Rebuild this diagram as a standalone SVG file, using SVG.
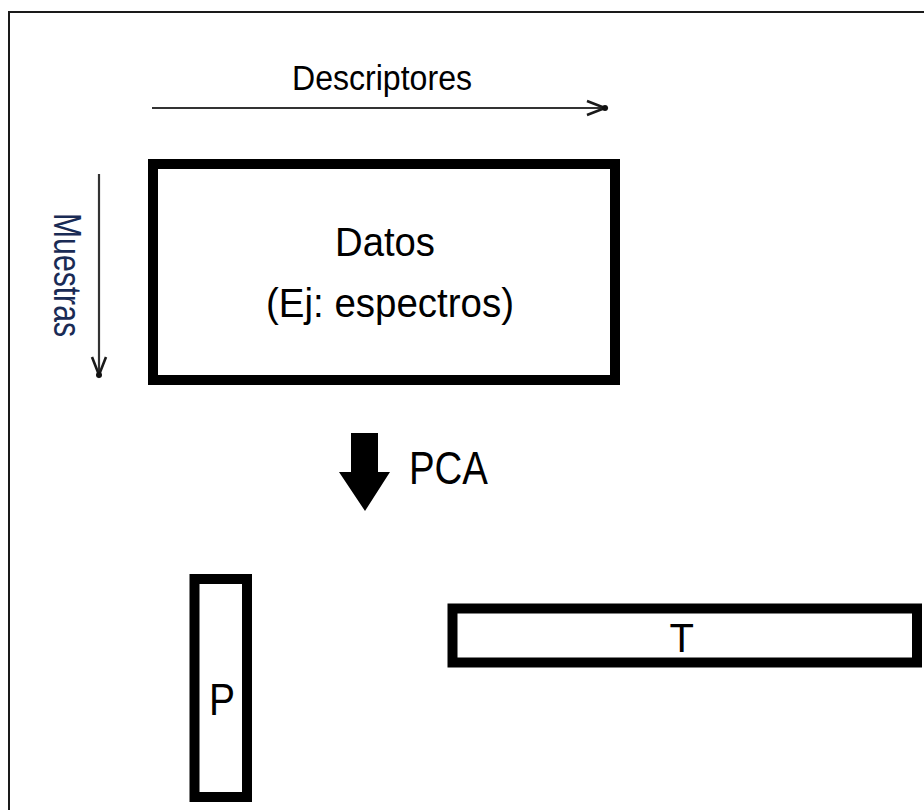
<svg xmlns="http://www.w3.org/2000/svg" width="924" height="810" viewBox="0 0 924 810">
  <style>
    .box { fill: #ffffff; stroke: #000000; stroke-width: 10; }
    .axis { fill: none; stroke: #333333; stroke-width: 2.2; }
    .head { fill: none; stroke: #1a1a1a; stroke-width: 2.6; }
    .lbl { font-family: "Liberation Sans", Arial, sans-serif; fill: #000000; }
    .frame { fill: none; stroke: #1a1a1a; stroke-width: 2; }
  </style>

  <rect x="0" y="0" width="924" height="810" fill="#ffffff"/>

  <!-- outer frame, open to the right and bottom -->
  <path class="frame" d="M9,811 L9,12 L925,12"/>

  <g id="connectors">
    <!-- horizontal axis: descriptors -->
    <line class="axis" x1="152" y1="108" x2="604" y2="108"/>
    <path class="head" d="M587,101 L605,108 L587,115"/>
    <circle cx="605" cy="108" r="3" fill="#111111"/>
    <!-- vertical axis: samples -->
    <line class="axis" x1="99" y1="174" x2="99" y2="373"/>
    <path class="head" d="M92,357 L99,375 L106,357"/>
    <circle cx="99" cy="375" r="3" fill="#111111"/>
    <!-- PCA block arrow -->
    <polygon id="pca-arrow" points="351,433 378,433 378,472 390,472 365,511 339,472 351,472" fill="#000000"/>
  </g>

  <g id="label-descriptores">
    <text class="lbl" x="292" y="90" font-size="35" textLength="180" lengthAdjust="spacingAndGlyphs">Descriptores</text>
  </g>

  <g id="label-muestras">
    <text class="lbl" transform="translate(54,213) rotate(90)" font-size="38" textLength="124" lengthAdjust="spacingAndGlyphs" style="fill:#1a2b55">Muestras</text>
  </g>

  <g id="datos">
    <rect class="box" x="153" y="164" width="462" height="216"/>
    <text class="lbl" x="335" y="256" font-size="41" textLength="100" lengthAdjust="spacingAndGlyphs">Datos</text>
    <text class="lbl" x="266" y="317" font-size="41" textLength="248" lengthAdjust="spacingAndGlyphs">(Ej: espectros)</text>
  </g>

  <g id="label-pca">
    <text class="lbl" x="409" y="484" font-size="46" textLength="79" lengthAdjust="spacingAndGlyphs">PCA</text>
  </g>

  <g id="p">
    <rect class="box" x="194.5" y="579" width="52.5" height="218"/>
    <text class="lbl" x="209" y="715" font-size="44" textLength="26" lengthAdjust="spacingAndGlyphs">P</text>
  </g>

  <g id="t">
    <rect class="box" x="452.5" y="608.5" width="464.5" height="54"/>
    <text class="lbl" x="669.5" y="652" font-size="40">T</text>
  </g>
</svg>
